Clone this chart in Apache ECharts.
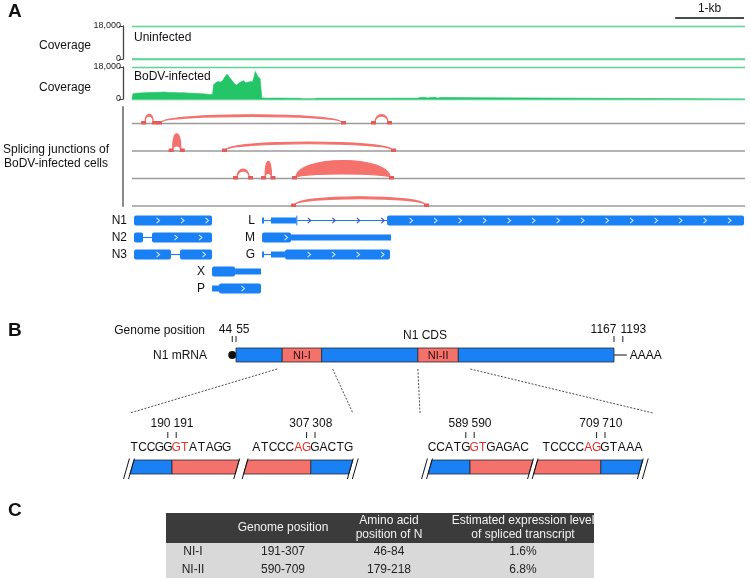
<!DOCTYPE html>
<html><head><meta charset="utf-8">
<script src="https://cdn.jsdelivr.net/npm/echarts@6/dist/echarts.min.js"></script>
<style>html,body{margin:0;padding:0;background:#fff}#c{width:750px;height:580px}</style>
</head><body><div id="c"></div>
<script>
// ================= DATA =================
const genomeLength = 8900;
const coverageMax = 18000;
const coverageUninfected = [[0, 0], [8900, 0]];
const coverageInfected = [
  [0,0],[15,3000],[60,3300],[120,3400],[180,3500],[250,3600],[320,3700],[400,3800],[470,3900],
  [540,3700],[600,3600],[680,3500],[760,3500],[840,3300],[920,3200],[1000,3000],[1060,2800],
  [1120,2600],[1170,2700],[1185,8000],[1215,9200],[1250,9800],[1285,9500],[1320,10500],
  [1350,12500],[1380,14000],[1400,13500],[1430,11500],[1460,10000],[1490,8500],[1520,7900],
  [1550,8800],[1590,9900],[1620,10300],[1650,9200],[1690,9500],[1720,9800],[1750,9600],
  [1775,13000],[1790,15500],[1810,14800],[1830,12500],[1860,11500],[1878,10500],[1885,600],
  [1950,450],[2100,500],[2300,450],[2440,400],[2470,100],[2650,100],[2680,400],[3000,420],
  [3400,400],[3800,450],[4150,450],[4180,900],[4250,950],[4290,500],[4330,900],[4400,950],
  [4440,500],[4480,850],[4530,800],[4550,0],[8900,0]
];
const junctionTracks = [0, 1, 2, 3];
const junctionStart = [191, 421, 3528, 590, 1365, 1525, 1932, 2381, 2367];
const junctionEnd   = [307, 3049, 3717, 709, 3775, 1700, 2025, 3746, 4254];
const junctionTrack = [0, 0, 0, 1, 1, 2, 2, 2, 3];
const junctionReads = [6, 4, 5, 80, 5, 7, 80, 90, 6];

const geneNames = ['N1', 'N2', 'N3', 'X', 'P', 'L', 'M', 'G'];
const geneRows  = [0, 1, 2, 3, 4, 0, 1, 2];
const geneSegments = [
  [[29, 1162, 'cds']],
  [[29, 160, 'cds'], [160, 290, 'intron'], [290, 1162, 'cds']],
  [[29, 566, 'cds'], [566, 697, 'intron'], [697, 1162, 'cds']],
  [[1162, 1496, 'cds'], [1496, 1873, 'utr']],
  [[1162, 1263, 'utr'], [1263, 1873, 'cds']],
  [[1888, 1917, 'utr'], [1917, 2018, 'intron'], [2018, 2388, 'utr'], [2386, 2400, 'cds'], [2400, 3703, 'intronArrow'], [3703, 8886, 'cds']],
  [[1888, 2309, 'cds'], [2309, 3761, 'utr']],
  [[1888, 1917, 'utr'], [1917, 2018, 'intron'], [2018, 2222, 'utr'], [2222, 3746, 'cds']]
];
const scaleBarEnd = 8886, scaleBarLength = 1000, scaleBarLabel = '1-kb';

const mrnaCapPos = 44, mrnaPolyAPos = 1193, cdsStart = 55, cdsEnd = 1167;
const mrnaRegionStart = [55, 191, 307, 590, 709];
const mrnaRegionEnd   = [191, 307, 590, 709, 1167];
const mrnaRegionName  = ['', 'NI-I', '', 'NI-II', ''];
const genomeTicks = [44, 55, 1167, 1193];

const seqStrings = ['TCCGGGTATAGG', 'ATCCCAGGACTG', 'CCATGGTGAGAC', 'TCCCCAGGTAAA'];
const seqFirstPos = [186, 301, 585, 703];
const seqBoundary = [190.5, 307.5, 589.5, 709.5];
const seqExonSide = ['left', 'right', 'left', 'right'];
const seqTicks = [[190, 191], [307, 308], [589, 590], [709, 710]];
const seqSpan = [[185.5, 198.5], [299.5, 312.5], [584.5, 597], [701.5, 714.5]];

const tableHeader = ['', 'Genome position', 'Amino acid\nposition of N', 'Estimated expression level\nof spliced transcript'];
const tableRows = [['NI-I', '191-307', '46-84', '1.6%'], ['NI-II', '590-709', '179-218', '6.8%']];

// ================= STYLE / LAYOUT =================
const FONT = '"Liberation Sans", Arial, Helvetica, sans-serif';
const BLUE = '#1a80f5', RED = '#f4716c', GREEN = '#23c567', GREEN_LINE = '#5cd495';
const KINDS = ['cds', 'utr', 'intron', 'intronArrow'];
const seqLeft = [130, 252, 428, 542];
const LW = 8.4;

function txt(x, y, text, opt) {
  opt = opt || {};
  const align = opt.align || 'left', va = opt.va || 'middle';
  return { type: 'text', x: x, y: y, silent: true, style: {
    text: text, fill: opt.color || '#111', font: (opt.weight || 'normal') + ' ' + (opt.size || 12) + 'px ' + FONT,
    align: align, verticalAlign: va, textAlign: align, textVerticalAlign: va, lineHeight: opt.lh || 14 } };
}

function chevron(x, y, color) {
  return { type: 'polyline', shape: { points: [[x - 1.5, y - 2.6], [x + 1.5, y], [x - 1.5, y + 2.6]] },
    style: { stroke: color, lineWidth: 1.1, fill: null } };
}

// ================= RENDERERS =================
function renderBaseline(params, api) {
  const t = api.value(0);
  const a = api.coord([0, t]), b = api.coord([genomeLength, t]);
  return { type: 'line', shape: { x1: a[0], y1: a[1], x2: b[0], y2: b[1] }, style: { stroke: '#9b9b9b', lineWidth: 1.6 } };
}
function renderArc(params, api) {
  const i = params.dataIndex;
  const a = api.coord([junctionStart[i], junctionTrack[i]]);
  const b = api.coord([junctionEnd[i], junctionTrack[i]]);
  const r = junctionReads[i] / 90;
  const h = 6 + 11 * Math.pow(r, 0.6);
  const th = 1 + 12.5 * r;
  const y = a[1] - 1, x1 = a[0], x2 = b[0];
  const co = h / 0.75, ci = Math.max(h - th, 0) / 0.75;
  const d = 'M' + x1 + ' ' + y + 'C' + x1 + ' ' + (y - co) + ' ' + x2 + ' ' + (y - co) + ' ' + x2 + ' ' + y +
            'C' + x2 + ' ' + (y - ci) + ' ' + x1 + ' ' + (y - ci) + ' ' + x1 + ' ' + y + 'Z';
  return { type: 'group', children: [
    { type: 'path', shape: { pathData: d }, style: { fill: RED, stroke: RED, lineWidth: 1.2 } },
    { type: 'rect', shape: { x: x1 - 4, y: a[1] - 2.5, width: 5, height: 3.5 }, style: { fill: '#e85a5a' } },
    { type: 'rect', shape: { x: x2 - 1, y: a[1] - 2.5, width: 5, height: 3.5 }, style: { fill: '#e85a5a' } }
  ] };
}
function renderGene(params, api) {
  const s = api.value(0), e = api.value(1), row = api.value(2), k = api.value(3);
  const a = api.coord([s, row]), b = api.coord([e, row]);
  const cy = a[1], x1 = a[0], x2 = b[0];
  const ch = [];
  if (k === 0) {
    ch.push({ type: 'rect', shape: { x: x1, y: cy - 5, width: Math.max(x2 - x1, 1), height: 10, r: 2 }, style: { fill: BLUE } });
    for (let x = x1 + 24; x < x2 - 4; x += 24.5) ch.push(chevron(x, cy, '#cfe2ff'));
  } else if (k === 1) {
    ch.push({ type: 'rect', shape: { x: x1, y: cy - 3, width: x2 - x1, height: 6 }, style: { fill: BLUE } });
  } else {
    ch.push({ type: 'line', shape: { x1: x1, y1: cy, x2: x2, y2: cy }, style: { stroke: BLUE, lineWidth: 1.1 } });
    if (k === 3) for (let x = x1 + 12; x < x2 - 4; x += 24.5) ch.push(chevron(x, cy, '#4545d6'));
  }
  return { type: 'group', children: ch };
}
function renderGeneLabel(params, api) {
  const g = params.dataIndex;
  const p = api.coord([geneSegments[g][0][0], geneRows[g]]);
  return txt(p[0] - 7, p[1], geneNames[g], { align: 'right', size: 12 });
}
function renderMrna(params, api) {
  const i = params.dataIndex;
  const a = api.coord([mrnaRegionStart[i], 1]), b = api.coord([mrnaRegionEnd[i], 0]);
  const isNI = mrnaRegionName[i] !== '';
  const ch = [{ type: 'rect', shape: { x: a[0], y: a[1], width: b[0] - a[0], height: b[1] - a[1] },
    style: { fill: isNI ? RED : BLUE, stroke: '#2a2a2a', lineWidth: 0.8 } }];
  if (isNI) ch.push(txt((a[0] + b[0]) / 2, (a[1] + b[1]) / 2 + 0.5, mrnaRegionName[i], { align: 'center', size: 11, color: '#2a1010' }));
  return { type: 'group', children: ch };
}
// paired tick labels: first label sits left of the pair's midpoint, second label right of it
function pairLabel(api, ticks, i, yVal, yOff, gap) {
  const first = i % 2 === 0;
  const p = api.coord([ticks[i], yVal]);
  const q = api.coord([ticks[first ? i + 1 : i - 1], yVal]);
  const mid = (p[0] + q[0]) / 2;
  return txt(first ? mid - gap : mid + gap, p[1] - yOff, String(ticks[i]), { align: first ? 'right' : 'left', size: 12 });
}
function renderGenomeTick(params, api) {
  const i = params.dataIndex;
  const p = api.coord([genomeTicks[i], 1]);
  return { type: 'group', children: [
    { type: 'line', shape: { x1: p[0], y1: p[1] - 12, x2: p[0], y2: p[1] - 6 }, style: { stroke: '#222', lineWidth: 1 } },
    pairLabel(api, genomeTicks, i, 1, 18, 2)
  ] };
}
function renderCapPolyA(params, api) {
  const c = api.coord([mrnaCapPos, 0.5]), s = api.coord([cdsStart, 0.5]);
  const e = api.coord([cdsEnd, 0.5]), pa = api.coord([mrnaPolyAPos, 0.5]);
  return { type: 'group', children: [
    { type: 'line', shape: { x1: c[0], y1: c[1], x2: s[0], y2: s[1] }, style: { stroke: '#111', lineWidth: 1 } },
    { type: 'circle', shape: { cx: c[0], cy: c[1], r: 4 }, style: { fill: '#111' } },
    { type: 'line', shape: { x1: e[0], y1: e[1], x2: pa[0] + 4, y2: pa[1] }, style: { stroke: '#111', lineWidth: 1 } },
    txt(pa[0] + 7, pa[1] + 1, 'AAAA', { size: 12 })
  ] };
}
function makeSeqRenderers(b) {
  const isRed = function (pos) {
    const d = seqExonSide[b] === 'left' ? pos - seqBoundary[b] : seqBoundary[b] - pos;
    return d > 0 && d < 2;
  };
  return {
    letters: function (params, api) {
      const k = params.dataIndex, pos = seqFirstPos[b] + k;
      const p = api.coord([pos, 0]);
      return txt(p[0], p[1] - 25, seqStrings[b][k], { align: 'center', size: 12, color: isRed(pos) ? '#e8302a' : '#111' });
    },
    ticks: function (params, api) {
      const i = params.dataIndex, p = api.coord([seqTicks[b][i], 0]);
      return { type: 'group', children: [
        { type: 'line', shape: { x1: p[0], y1: p[1] - 41, x2: p[0], y2: p[1] - 35 }, style: { stroke: '#222', lineWidth: 1 } },
        pairLabel(api, seqTicks[b], i, 0, 49, 1.5)
      ] };
    },
    box: function (params, api) {
      const a = api.coord([seqSpan[b][0], 0]), c = api.coord([seqSpan[b][1], 0]), m = api.coord([seqBoundary[b], 0]);
      const yb = a[1] + 1, yt = a[1] - 13, s = 4;
      const x1 = a[0], x2 = c[0], xm = m[0];
      const exonLeft = seqExonSide[b] === 'left';
      const k = s / (yb - yt);
      const slash = function (xBottom) {
        return { type: 'line', shape: { x1: xBottom - 5 * k, y1: yb + 5, x2: xBottom + s + 1.5 * k, y2: yt - 1.5 },
          style: { stroke: '#111', lineWidth: 1 } };
      };
      const ch = [
        { type: 'polygon', shape: { points: [[x1, yb], [x1 + s, yt], [xm, yt], [xm, yb]] }, style: { fill: exonLeft ? BLUE : RED, stroke: '#2a2a2a', lineWidth: 0.8 } },
        { type: 'polygon', shape: { points: [[xm, yb], [xm, yt], [x2, yt], [x2 - s, yb]] }, style: { fill: exonLeft ? RED : BLUE, stroke: '#2a2a2a', lineWidth: 0.8 } },
        slash(x1), slash(x2 - s)
      ];
      ch.push(exonLeft ? slash(x1 - 5) : slash(x2 - s + 5));
      return { type: 'group', children: ch };
    }
  };
}

// ================= OPTION =================
const grids = [
  { left: 132, top: 26, width: 613, height: 33 },
  { left: 132, top: 67, width: 613, height: 32 },
  { left: 132, top: 107, width: 613, height: 99 },
  { left: 132, top: 212, width: 613, height: 85 },
  { left: 236, top: 348, width: 378, height: 14 }
];
seqLeft.forEach(function (l) { grids.push({ left: l, top: 420, width: 12 * LW, height: 53 }); });

const fmtThousands = function (v) { return String(v).replace(/\B(?=(\d{3})+(?!\d))/g, ','); };
const covY = function (gi) {
  return { gridIndex: gi, type: 'value', min: 0, max: coverageMax, interval: coverageMax, offset: 9,
    axisLine: { show: true, onZero: false, lineStyle: { color: '#444', width: 1.3 } },
    axisTick: { show: true, length: 4, lineStyle: { color: '#444', width: 1 } },
    axisLabel: { fontSize: 9, color: '#222', margin: 2, formatter: fmtThousands, fontFamily: FONT },
    splitLine: { show: true, lineStyle: { color: GREEN_LINE, width: 1.3 } } };
};
const hidX = function (gi, min, max) { return { gridIndex: gi, type: 'value', min: min, max: max, show: false, splitLine: { show: false } }; };

const xAxes = [hidX(0, 0, genomeLength), hidX(1, 0, genomeLength), hidX(2, 0, genomeLength), hidX(3, 0, genomeLength), hidX(4, cdsStart, cdsEnd)];
const yAxes = [covY(0), covY(1),
  { gridIndex: 2, type: 'value', min: -0.6, max: 3, inverse: true, offset: 9,
    axisLine: { show: true, onZero: false, lineStyle: { color: '#8a8a8a', width: 2 } }, axisTick: { show: false }, axisLabel: { show: false }, splitLine: { show: false } },
  { gridIndex: 3, type: 'category', data: ['0', '1', '2', '3', '4'], inverse: true, show: false },
  { gridIndex: 4, type: 'value', min: 0, max: 1, show: false, splitLine: { show: false } }
];
seqFirstPos.forEach(function (f, b) {
  xAxes.push(hidX(5 + b, f - 0.5, f + 11.5));
  yAxes.push({ gridIndex: 5 + b, type: 'value', min: 0, max: 1, show: false, splitLine: { show: false } });
});

const geneItems = [];
geneSegments.forEach(function (segs, g) { segs.forEach(function (s) { geneItems.push([s[0], s[1], geneRows[g], KINDS.indexOf(s[2])]); }); });

const series = [
  { type: 'line', xAxisIndex: 0, yAxisIndex: 0, data: coverageUninfected, symbol: 'none', lineStyle: { color: GREEN_LINE, width: 1.3 }, silent: true },
  { type: 'line', xAxisIndex: 1, yAxisIndex: 1, data: coverageInfected, symbol: 'none', lineStyle: { color: GREEN, width: 0.6 }, areaStyle: { color: GREEN, opacity: 1 }, silent: true },
  { type: 'custom', xAxisIndex: 2, yAxisIndex: 2, data: junctionTracks.map(function (t) { return [t]; }), renderItem: renderBaseline, silent: true, clip: false },
  { type: 'custom', xAxisIndex: 2, yAxisIndex: 2, data: junctionStart.map(function (s, i) { return [s, junctionEnd[i], junctionTrack[i], junctionReads[i]]; }), renderItem: renderArc, silent: true, clip: false },
  { type: 'custom', xAxisIndex: 3, yAxisIndex: 3, data: geneItems, renderItem: renderGene, silent: true, clip: false },
  { type: 'custom', xAxisIndex: 3, yAxisIndex: 3, data: geneNames.map(function (n, g) { return [geneSegments[g][0][0], geneRows[g]]; }), renderItem: renderGeneLabel, silent: true, clip: false },
  { type: 'custom', xAxisIndex: 4, yAxisIndex: 4, data: [[mrnaCapPos, mrnaPolyAPos]], renderItem: renderCapPolyA, silent: true, clip: false },
  { type: 'custom', xAxisIndex: 4, yAxisIndex: 4, data: mrnaRegionStart.map(function (s, i) { return [s, mrnaRegionEnd[i]]; }), renderItem: renderMrna, silent: true, clip: false },
  { type: 'custom', xAxisIndex: 4, yAxisIndex: 4, data: genomeTicks.map(function (t) { return [t, 1]; }), renderItem: renderGenomeTick, silent: true, clip: false }
];
seqStrings.forEach(function (str, b) {
  const r = makeSeqRenderers(b);
  const ax = { xAxisIndex: 5 + b, yAxisIndex: 5 + b, type: 'custom', silent: true, clip: false };
  series.push(Object.assign({}, ax, { data: [[seqSpan[b][0], seqSpan[b][1]]], renderItem: r.box }));
  series.push(Object.assign({}, ax, { data: str.split('').map(function (c, k) { return [seqFirstPos[b] + k, 0]; }), renderItem: r.letters }));
  series.push(Object.assign({}, ax, { data: seqTicks[b].map(function (t) { return [t, 0]; }), renderItem: r.ticks }));
});

// static text / table graphics
const staticGraphics = [
  txt(8, 12, 'A', { size: 19, weight: 'bold' }),
  txt(65, 46, 'Coverage', { align: 'center' }), txt(65, 88, 'Coverage', { align: 'center' }),
  txt(134, 38, 'Uninfected'), txt(134, 77, 'BoDV-infected'),
  txt(56, 150, 'Splicing junctions of', { align: 'center' }), txt(56, 164, 'BoDV-infected cells', { align: 'center' }),
  txt(8, 331, 'B', { size: 19, weight: 'bold' }),
  txt(205, 331, 'Genome position', { align: 'right' }),
  txt(207, 356, 'N1 mRNA', { align: 'right' }),
  txt(8, 511, 'C', { size: 19, weight: 'bold' })
];

const tableLeft = 166, tableWidth = 428, headTop = 513, headH = 30, rowH = 17.5;
const colCenters = [193, 283, 389, 523];
staticGraphics.push({ type: 'rect', shape: { x: tableLeft, y: headTop, width: tableWidth, height: headH }, style: { fill: '#3b3b3b' } });
staticGraphics.push({ type: 'rect', shape: { x: tableLeft, y: headTop + headH, width: tableWidth, height: rowH * tableRows.length }, style: { fill: '#d9d9d9' } });
tableHeader.forEach(function (h, c) { if (h) staticGraphics.push(txt(colCenters[c], headTop + headH / 2, h, { align: 'center', color: '#f2f2f2', lh: 14 })); });
tableRows.forEach(function (row, r) { row.forEach(function (v, c) { staticGraphics.push(txt(colCenters[c], headTop + headH + rowH * (r + 0.5), v, { align: 'center', color: '#222' })); }); });

const chart = echarts.init(document.getElementById('c'));
chart.setOption({ animation: false, textStyle: { fontFamily: FONT }, grid: grids, xAxis: xAxes, yAxis: yAxes, series: series });

// computed annotation: scale bar, N1 CDS label, dashed connectors
const px = function (gi, v) { return chart.convertToPixel({ gridIndex: gi }, [v, 0]); };
const sb1 = px(0, scaleBarEnd - scaleBarLength)[0], sb2 = px(0, scaleBarEnd)[0];
const g = staticGraphics.slice();
g.push({ type: 'line', shape: { x1: sb1, y1: 18, x2: sb2, y2: 18 }, style: { stroke: '#111', lineWidth: 1.3 } });
g.push(txt((sb1 + sb2) / 2, 9, scaleBarLabel, { align: 'center', size: 12 }));
g.push(txt(px(4, (cdsStart + cdsEnd) / 2)[0], 336, 'N1 CDS', { align: 'center' }));
const conn = [
  [px(4, mrnaRegionStart[1])[0] - 5, px(5, seqSpan[0][0])[0]],
  [px(4, mrnaRegionEnd[1])[0] + 11, px(6, seqSpan[1][1])[0]],
  [px(4, mrnaRegionStart[3])[0], px(7, seqSpan[2][0])[0] - 8],
  [px(4, mrnaRegionEnd[3])[0] + 12, px(8, seqSpan[3][1])[0] + 10]
];
conn.forEach(function (c) {
  g.push({ type: 'line', shape: { x1: c[0], y1: 369, x2: c[1], y2: 413 }, style: { stroke: '#222', lineWidth: 0.8, lineDash: [2, 1.5] } });
});
chart.setOption({ graphic: g });
</script></body></html>
